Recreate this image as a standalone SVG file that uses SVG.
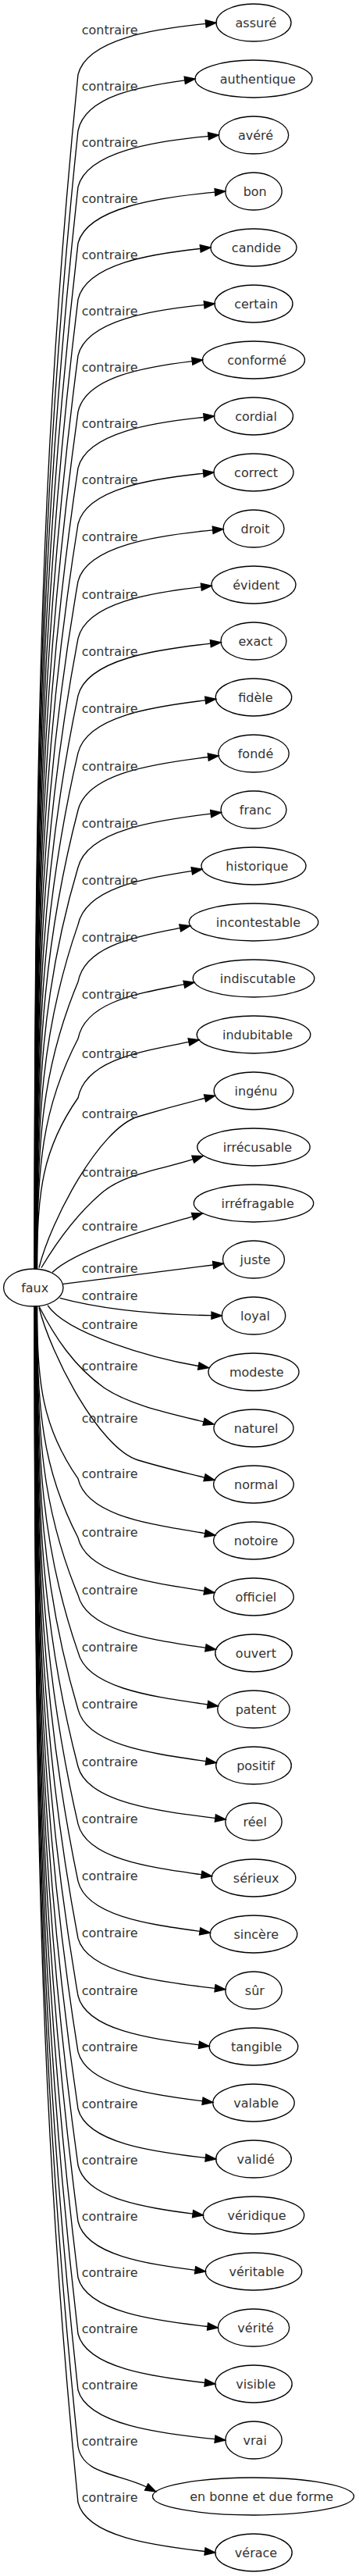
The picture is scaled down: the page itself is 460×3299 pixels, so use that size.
<svg xmlns="http://www.w3.org/2000/svg" width="460" height="3299" viewBox="0 0 460 3299">
<style>
.n ellipse{fill:none;stroke:#000;stroke-width:1.33}
text{font-family:"DejaVu Sans","Liberation Sans",sans-serif;font-size:16px;fill:#333}
.n text{text-anchor:middle}
.e path{fill:none;stroke:#000;stroke-width:1.33;marker-end:url(#arr)}
</style>
<defs>
<marker id="arr" markerUnits="userSpaceOnUse" viewBox="0 0 16 12" markerWidth="16" markerHeight="12" refX="0" refY="4.667" orient="auto" overflow="visible">
<path d="M0,0 L13.33,4.667 L0,9.333 Z" fill="#000" stroke="#000" stroke-width="1.33"/>
</marker>
</defs>
<rect width="460" height="3299" fill="#fff"/>
<g id="nodes">
<g id="n-faux" class="n"><ellipse cx="42.8" cy="1649" rx="38.2" ry="24"/><text x="44.7" y="1654.5">faux</text></g>
<g id="n-assure" class="n"><ellipse cx="325" cy="29" rx="48" ry="24"/><text x="327.9" y="34.5">assuré</text></g>
<g id="n-authentique" class="n"><ellipse cx="325" cy="101" rx="75" ry="24"/><text x="330.3" y="106.5">authentique</text></g>
<g id="n-avere" class="n"><ellipse cx="325" cy="173" rx="44.7" ry="24"/><text x="327.5" y="178.5">avéré</text></g>
<g id="n-bon" class="n"><ellipse cx="325" cy="245" rx="36.2" ry="24"/><text x="326.7" y="250.5">bon</text></g>
<g id="n-candide" class="n"><ellipse cx="325" cy="317" rx="55" ry="24"/><text x="328.5" y="322.5">candide</text></g>
<g id="n-certain" class="n"><ellipse cx="325" cy="389" rx="50" ry="24"/><text x="328.1" y="394.5">certain</text></g>
<g id="n-conforme" class="n"><ellipse cx="325" cy="461" rx="65.5" ry="24"/><text x="329.2" y="466.5">conformé</text></g>
<g id="n-cordial" class="n"><ellipse cx="325" cy="533" rx="50.5" ry="24"/><text x="328" y="538.5">cordial</text></g>
<g id="n-correct" class="n"><ellipse cx="325" cy="605" rx="51" ry="24"/><text x="328.1" y="610.5">correct</text></g>
<g id="n-droit" class="n"><ellipse cx="325" cy="677" rx="39" ry="24"/><text x="327" y="682.5">droit</text></g>
<g id="n-evident" class="n"><ellipse cx="325" cy="749" rx="54" ry="24"/><text x="328.3" y="754.5">évident</text></g>
<g id="n-exact" class="n"><ellipse cx="325" cy="821" rx="42" ry="24"/><text x="327.4" y="826.5">exact</text></g>
<g id="n-fidele" class="n"><ellipse cx="325" cy="893" rx="48.7" ry="24"/><text x="327.4" y="898.5">fidèle</text></g>
<g id="n-fonde" class="n"><ellipse cx="325" cy="965" rx="45.3" ry="24"/><text x="327.5" y="970.5">fondé</text></g>
<g id="n-franc" class="n"><ellipse cx="325" cy="1037" rx="42" ry="24"/><text x="327.3" y="1042.5">franc</text></g>
<g id="n-historique" class="n"><ellipse cx="325" cy="1109" rx="67" ry="24"/><text x="329.4" y="1114.5">historique</text></g>
<g id="n-incontestable" class="n"><ellipse cx="325" cy="1181" rx="82.8" ry="24"/><text x="331" y="1186.5">incontestable</text></g>
<g id="n-indiscutable" class="n"><ellipse cx="325" cy="1253" rx="77.8" ry="24"/><text x="330.3" y="1258.5">indiscutable</text></g>
<g id="n-indubitable" class="n"><ellipse cx="325" cy="1325" rx="72.8" ry="24"/><text x="330" y="1330.5">indubitable</text></g>
<g id="n-ingenu" class="n"><ellipse cx="325" cy="1397" rx="50.8" ry="24"/><text x="328" y="1402.5">ingénu</text></g>
<g id="n-irrecusable" class="n"><ellipse cx="325" cy="1469" rx="72.2" ry="24"/><text x="329.9" y="1474.5">irrécusable</text></g>
<g id="n-irrefragable" class="n"><ellipse cx="325" cy="1541" rx="76.7" ry="24"/><text x="330.2" y="1546.5">irréfragable</text></g>
<g id="n-juste" class="n"><ellipse cx="325" cy="1613" rx="39.5" ry="24"/><text x="327.1" y="1618.5">juste</text></g>
<g id="n-loyal" class="n"><ellipse cx="325" cy="1685" rx="40.8" ry="24"/><text x="327.1" y="1690.5">loyal</text></g>
<g id="n-modeste" class="n"><ellipse cx="325" cy="1757" rx="58" ry="24"/><text x="328.8" y="1762.5">modeste</text></g>
<g id="n-naturel" class="n"><ellipse cx="325" cy="1829" rx="51" ry="24"/><text x="328.1" y="1834.5">naturel</text></g>
<g id="n-normal" class="n"><ellipse cx="325" cy="1901" rx="51.3" ry="24"/><text x="328.1" y="1906.5">normal</text></g>
<g id="n-notoire" class="n"><ellipse cx="325" cy="1973" rx="51.3" ry="24"/><text x="328.1" y="1978.5">notoire</text></g>
<g id="n-officiel" class="n"><ellipse cx="325" cy="2045" rx="51.3" ry="24"/><text x="327.9" y="2050.5">officiel</text></g>
<g id="n-ouvert" class="n"><ellipse cx="325" cy="2117" rx="49.2" ry="24"/><text x="327.9" y="2122.5">ouvert</text></g>
<g id="n-patent" class="n"><ellipse cx="325" cy="2189" rx="46.3" ry="24"/><text x="327.9" y="2194.5">patent</text></g>
<g id="n-positif" class="n"><ellipse cx="325" cy="2261" rx="48.3" ry="24"/><text x="327.7" y="2266.5">positif</text></g>
<g id="n-reel" class="n"><ellipse cx="325" cy="2333" rx="36.2" ry="24"/><text x="326.7" y="2338.5">réel</text></g>
<g id="n-serieux" class="n"><ellipse cx="325" cy="2405" rx="53.8" ry="24"/><text x="328.2" y="2410.5">sérieux</text></g>
<g id="n-sincere" class="n"><ellipse cx="325" cy="2477" rx="55.8" ry="24"/><text x="328.2" y="2482.5">sincère</text></g>
<g id="n-sur" class="n"><ellipse cx="325" cy="2549" rx="36.2" ry="24"/><text x="326.4" y="2554.5">sûr</text></g>
<g id="n-tangible" class="n"><ellipse cx="325" cy="2621" rx="56.8" ry="24"/><text x="328.6" y="2626.5">tangible</text></g>
<g id="n-valable" class="n"><ellipse cx="325" cy="2693" rx="52.2" ry="24"/><text x="328.2" y="2698.5">valable</text></g>
<g id="n-valide" class="n"><ellipse cx="325" cy="2765" rx="48.3" ry="24"/><text x="327.7" y="2770.5">validé</text></g>
<g id="n-veridique" class="n"><ellipse cx="325" cy="2837" rx="64.7" ry="24"/><text x="329.1" y="2842.5">véridique</text></g>
<g id="n-veritable" class="n"><ellipse cx="325" cy="2909" rx="61.7" ry="24"/><text x="328.9" y="2914.5">véritable</text></g>
<g id="n-verite" class="n"><ellipse cx="325" cy="2981" rx="45.7" ry="24"/><text x="327.6" y="2986.5">vérité</text></g>
<g id="n-visible" class="n"><ellipse cx="325" cy="3053" rx="49.2" ry="24"/><text x="327.8" y="3058.5">visible</text></g>
<g id="n-vrai" class="n"><ellipse cx="325" cy="3125" rx="36.2" ry="24"/><text x="326.7" y="3130.5">vrai</text></g>
<g id="n-en-bonne-et-due-forme" class="n"><ellipse cx="324.5" cy="3197" rx="129" ry="24"/><text x="335.1" y="3202.5">en bonne et due forme</text></g>
<g id="n-verace" class="n"><ellipse cx="325" cy="3269" rx="49.2" ry="24"/><text x="328" y="3274.5">vérace</text></g>
</g>
<g id="connectors" class="e">
<path d="M44,1625.3 C44,936.8 54,554.3 100,95.3 C111.5,49.9 198.2,36.9 263.7,30.4"/>
<path d="M44.2,1625.3 C44.2,969.2 54,604.7 100,167.3 C109.6,122.15 182.1,110.3 236.8,102.8"/>
<path d="M44.4,1625.3 C44.4,1001.6 54,655.1 100,239.3 C111.7,193.8 200.2,180.75 267,174.3"/>
<path d="M44.6,1625.3 C44.6,1034 54,705.5 100,311.3 C112.3,265.7 205.3,252.5 275.5,246.2"/>
<path d="M44.8,1625.3 C44.8,1066.4 54,755.9 100,383.3 C111,337.9 194.05,325.1 256.75,318.4"/>
<path d="M45,1625.3 C45,1098.8 54,806.3 100,455.3 C111.3,409.8 197,396.9 261.7,390.35"/>
<path d="M45.2,1625.3 C45.2,1131.2 54,856.7 100,527.3 C110.2,482 187.8,469.7 246.3,462.6"/>
<path d="M45.4,1625.3 C45.4,1163.6 54,907.1 100,599.3 C111.3,553.9 196.7,541 261.2,534.4"/>
<path d="M45.6,1625.3 C45.6,1195.9 54,957.3 100,671 C111.2,625.7 196.4,612.8 260.7,606.3"/>
<path d="M45.8,1625.3 C45.8,1228.8 54,1008.6 100,744.3 C112.1,698.5 203.6,685.4 272.7,678.85"/>
<path d="M46,1625.3 C46,1261.8 54,1059.9 100,817.6 C111.1,771.5 194.7,758.95 257.9,751.7"/>
<path d="M46.2,1625.3 C46.2,1294.8 54,1111.2 100,890.9 C111.9,844.2 201.9,831.45 269.85,824.2"/>
<path d="M46.4,1625.3 C46.4,1327.8 54,1162.5 100,964.2 C111.4,917.1 198,904.7 263.3,896.9"/>
<path d="M46.6,1625.3 C46.6,1360.8 54,1213.8 100,1037.5 C111.7,989.9 200.1,977.6 266.8,969.5"/>
<path d="M46.8,1625.3 C46.8,1393.8 54,1265.2 100,1110.8 C111.9,1062.7 202.1,1050.4 270.2,1042.1"/>
<path d="M47,1625.3 C47,1426.8 54,1316.5 100,1184.1 C110.2,1135.9 187.5,1124.9 245.85,1115.3"/>
<path d="M47.2,1625.3 C47.2,1459.7 54,1367.8 100,1257.4 C109.2,1209.1 178.45,1199.4 230.75,1188.4"/>
<path d="M47.4,1625.3 C47.4,1492.55 54,1418.8 100,1330.3 C109.5,1281.6 181.5,1271.6 235.9,1260.7"/>
<path d="M47.6,1625.3 C47.6,1526.6 54,1471.8 100,1406 C109.9,1355.9 185.2,1346 242,1334.4"/>
<path d="M50,1623.5 C65,1563.5 127,1445 177,1430 C207,1421 227.6,1415.25 262.6,1406.5"/>
<path d="M53,1623.5 C70,1595 95,1558 130,1528 C160,1502.3 207.3,1497.9 247.3,1484.7"/>
<path d="M67,1629.5 C100,1598 201.7,1571.3 246.7,1557.8"/>
<path d="M81,1644.3 L273.1,1620"/>
<path d="M76.7,1662.3 C120,1674 180,1683 271,1684.7"/>
<path d="M61,1671.7 C85,1708 194.4,1739.3 254.4,1749.5"/>
<path d="M50,1673 C70,1712 95,1750 133,1777 C165,1799 215.1,1809.6 261.1,1820.8"/>
<path d="M50,1674.5 C65,1734.5 127,1855 177,1870 C207,1879 227.1,1883.55 262.1,1892.3"/>
<path d="M47.6,1672.7 C47.6,1772.15 54,1827.4 100,1893.7 C111.4,1942.8 197.6,1952.25 262.7,1963.8"/>
<path d="M47.4,1672.7 C47.4,1806.2 54,1880.3 100,1969.3 C111.3,2017 197.1,2026.9 261.8,2037.5"/>
<path d="M47.2,1672.7 C47.2,1839.2 54,1931.7 100,2042.7 C111.4,2090.1 198.1,2100.2 263.5,2110.35"/>
<path d="M47,1672.7 C47,1872.1 54,1982.9 100,2115.9 C111.6,2162.9 199.7,2173.3 266.2,2183"/>
<path d="M46.8,1672.7 C46.8,1905.1 54,2034.2 100,2189.2 C111.5,2235.7 198.4,2246.1 264,2255.6"/>
<path d="M46.6,1672.7 C46.6,1938.1 54,2085.6 100,2262.5 C112.3,2308.7 205.5,2319.7 275.9,2328.45"/>
<path d="M46.4,1672.7 C46.4,1971.1 54,2136.9 100,2335.8 C111.1,2381.3 195,2391.8 258.3,2400.8"/>
<path d="M46.2,1672.7 C46.2,2004.1 54,2188.2 100,2409.1 C110.9,2454.1 193.65,2464.7 256.15,2473.4"/>
<path d="M46,1672.7 C46,2037.1 54,2239.5 100,2482.4 C112.3,2527.1 205.35,2538.6 275.55,2546.3"/>
<path d="M45.8,1672.7 C45.8,2070.2 54,2291 100,2556 C110.85,2600 192.98,2610.93 254.98,2618.86"/>
<path d="M45.6,1672.7 C45.6,2102.45 54,2341.2 100,2627.7 C111.2,2671.85 195.74,2682.93 259.57,2690.77"/>
<path d="M45.4,1672.7 C45.4,2135.4 54,2392.5 100,2701 C111.4,2744.75 198.05,2756.1 263.45,2763.5"/>
<path d="M45.2,1672.7 C45.2,2167.8 54,2442.9 100,2773 C110.3,2816.5 188.3,2827.3 247.1,2835.2"/>
<path d="M45,1672.7 C45,2200.2 54,2493.3 100,2845 C110.5,2888.6 190.1,2899.5 250.1,2907.3"/>
<path d="M44.8,1672.7 C44.8,2232.7 54,2543.7 100,2917 C111.6,2960.75 199.65,2972.2 266.05,2979.5"/>
<path d="M44.6,1672.7 C44.6,2265 54,2594.1 100,2989 C111.4,3032.75 197.54,3044.1 262.56,3051.5"/>
<path d="M44.4,1672.7 C44.4,2297.4 54,2644.5 100,3061 C112.3,3104.86 205.34,3116.6 275.54,3123.66"/>
<path d="M44.2,1672.7 C44.2,2329.8 54,2694.9 100,3133 C106.1,3169.4 152.6,3167.5 187.7,3185"/>
<path d="M44,1672.7 C44,2362.2 54,2745.3 100,3205 C111.4,3248.75 197.54,3260.1 262.56,3267.5"/>
<g id="edge-labels">
<text x="104.7" y="44.3">contraire</text>
<text x="104.7" y="116.3">contraire</text>
<text x="104.7" y="188.3">contraire</text>
<text x="104.7" y="260.3">contraire</text>
<text x="104.7" y="332.3">contraire</text>
<text x="104.7" y="404.3">contraire</text>
<text x="104.7" y="476.3">contraire</text>
<text x="104.7" y="548.3">contraire</text>
<text x="104.7" y="620">contraire</text>
<text x="104.7" y="693.3">contraire</text>
<text x="104.7" y="766.6">contraire</text>
<text x="104.7" y="839.9">contraire</text>
<text x="104.7" y="913.2">contraire</text>
<text x="104.7" y="986.5">contraire</text>
<text x="104.7" y="1059.8">contraire</text>
<text x="104.7" y="1133.1">contraire</text>
<text x="104.7" y="1206.4">contraire</text>
<text x="104.7" y="1279.3">contraire</text>
<text x="104.7" y="1355">contraire</text>
<text x="104.7" y="1431.7">contraire</text>
<text x="104.7" y="1506.7">contraire</text>
<text x="104.7" y="1576">contraire</text>
<text x="104.7" y="1630">contraire</text>
<text x="104.7" y="1665">contraire</text>
<text x="104.7" y="1702">contraire</text>
<text x="104.7" y="1755">contraire</text>
<text x="104.7" y="1821.7">contraire</text>
<text x="104.7" y="1892.7">contraire</text>
<text x="104.7" y="1968.3">contraire</text>
<text x="104.7" y="2041.7">contraire</text>
<text x="104.7" y="2114.9">contraire</text>
<text x="104.7" y="2188.2">contraire</text>
<text x="104.7" y="2261.5">contraire</text>
<text x="104.7" y="2334.8">contraire</text>
<text x="104.7" y="2408.1">contraire</text>
<text x="104.7" y="2481.4">contraire</text>
<text x="104.7" y="2555">contraire</text>
<text x="104.7" y="2626.7">contraire</text>
<text x="104.7" y="2700">contraire</text>
<text x="104.7" y="2772">contraire</text>
<text x="104.7" y="2844">contraire</text>
<text x="104.7" y="2916">contraire</text>
<text x="104.7" y="2988">contraire</text>
<text x="104.7" y="3060">contraire</text>
<text x="104.7" y="3132">contraire</text>
<text x="104.7" y="3204">contraire</text>
</g>
</g>
</svg>
